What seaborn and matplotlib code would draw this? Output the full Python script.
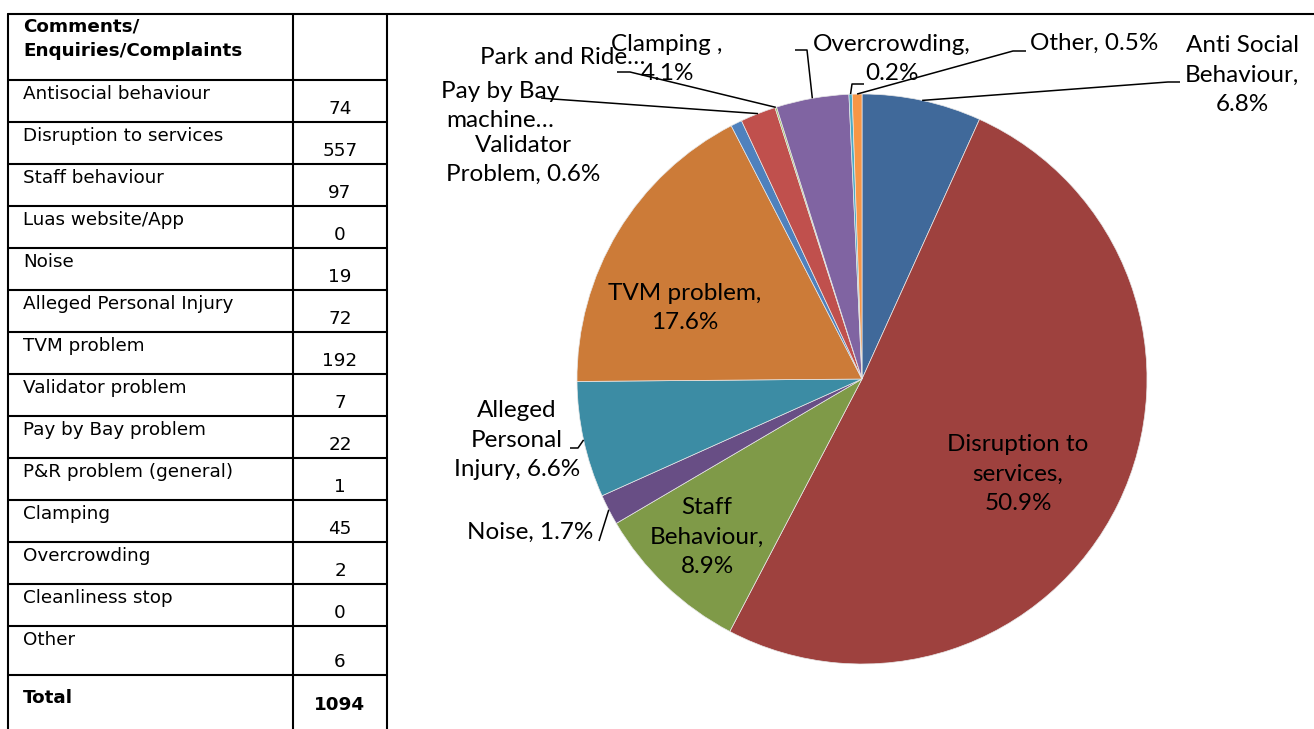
import matplotlib
matplotlib.use("Agg")
import matplotlib.pyplot as plt
import numpy as np
import seaborn as sns

# Table data
table_labels = ["Antisocial behaviour", "Disruption to services", "Staff behaviour",
                "Luas website/App", "Noise", "Alleged Personal Injury", "TVM problem",
                "Validator problem", "Pay by Bay problem", "P&R problem (general)",
                "Clamping", "Overcrowding", "Cleanliness stop", "Other"]
table_counts = [74, 557, 97, 0, 19, 72, 192, 7, 22, 1, 45, 2, 0, 6]

# Pie data (zero rows are left out of the chart)
pie_names = ["Anti Social\nBehaviour", "Disruption to\nservices", "Staff\nBehaviour",
             "Noise", "Alleged\nPersonal\nInjury", "TVM problem", "Validator\nProblem",
             "Pay by Bay\nmachine…", "Park and Ride…", "Clamping ", "Overcrowding", "Other"]
pie_counts = [74, 557, 97, 19, 72, 192, 7, 22, 1, 45, 2, 6]
pie_colors = ["#40699A", "#9E413E", "#7F9A48", "#684E85", "#3C8CA4", "#CC7B38",
              "#4F81BD", "#C0504D", "#9BBB59", "#8064A2", "#4BACC6", "#F79646"]

W, H = 1314, 729
def Y(y):
    return H - y

sns.set_theme(style="white")
plt.rcParams['font.family'] = ['DejaVu Sans']

fig = plt.figure(figsize=(W / 100, H / 100), dpi=100)
ax = fig.add_axes([0, 0, 1, 1])

# ---- pie ----
cx, cy, R = 862, Y(379), 285
wedges, _ = ax.pie(pie_counts, colors=sns.color_palette(pie_colors), startangle=90,
                   counterclock=False, center=(cx, cy), radius=R,
                   wedgeprops=dict(edgecolor="#e8e8e8", linewidth=0.5))
ax.set_xlim(0, W)
ax.set_ylim(0, H)
ax.set_aspect("equal")
ax.axis("off")

pie_total = sum(pie_counts)
# label layout: text centre, separator before the percentage, leader path (elbow, end)
label_layout = [
    ((1242, 75), ",\n", [(1168, 82), (1180, 82)]),
    ((1018, 474), ",\n", None),
    ((707, 537), ",\n", None),
    ((530, 532), ", ", [(599, 541)]),
    ((517, 440), ", ", [(578, 448), (570, 448)]),
    ((685, 308), ",\n", None),
    ((523, 160), ", ", None),
    ((500, 106), None, [(553, 99), (541, 98)]),
    ((563, 57), None, [(630, 72), (617, 72)]),
    ((667, 59), ",\n", [(807, 50), (795, 50)]),
    ((892, 59), ",\n", [(852, 84), (864, 84)]),
    ((1094, 43), ", ", [(1013, 51), (1026, 51)]),
]
pie_font = dict(family="Lato", size=17.5, color="black")
for w, name, n, (pos, sep, path) in zip(wedges, pie_names, pie_counts, label_layout):
    text = name if sep is None else f"{name}{sep}{100 * n / pie_total:.1f}%"
    ax.text(pos[0], Y(pos[1]), text, ha="center", va="center", multialignment="center",
            linespacing=1.5, **pie_font)
    if path:
        mid = np.deg2rad((w.theta1 + w.theta2) / 2)
        xs = [cx + R * np.cos(mid)] + [p[0] for p in path]
        ys = [cy + R * np.sin(mid)] + [Y(p[1]) for p in path]
        ax.plot(xs, ys, color="black", linewidth=1.1, solid_capstyle="butt")

# ---- table ----
lw = 1.5
x_left, x_mid, x_right = 8, 293, 387
bounds = [80] + [80 + 42 * (i + 1) for i in range(13)] + [675]
ax.plot([x_left, W], [Y(14), Y(14)], color="black", linewidth=lw)
for x in (x_left, x_mid, x_right):
    ax.plot([x, x], [Y(14), Y(H)], color="black", linewidth=lw)
for b in bounds:
    ax.plot([x_left, x_right], [Y(b), Y(b)], color="black", linewidth=lw)

tfont = dict(family="DejaVu Sans", size=13.2, color="black")
ax.text(23, Y(39), "Comments/\nEnquiries/Complaints", ha="left", va="center",
        fontweight="bold", linespacing=1.45, **tfont)
for i, (lab, cnt) in enumerate(zip(table_labels, table_counts)):
    top, bot = bounds[i], bounds[i + 1]
    ax.text(23, Y(top + 5), lab, ha="left", va="top", **tfont)
    ax.text(340, Y(bot - 4), str(cnt), ha="center", va="bottom", **tfont)
ax.text(23, Y(698), "Total", ha="left", va="center", fontweight="bold", **tfont)
ax.text(340, Y(705), str(sum(table_counts)), ha="center", va="center",
        fontweight="bold", **tfont)

fig.savefig("out.png", dpi=100)
